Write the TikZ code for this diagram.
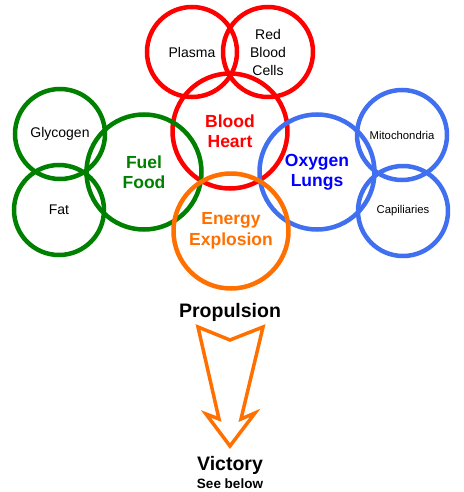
\documentclass[tikz,border=0pt]{standalone}
\usepackage{fontspec}
\setmainfont{Liberation Sans}
\definecolor{cred}{RGB}{255,0,0}
\definecolor{cgreen}{RGB}{0,128,0}
\definecolor{cblue}{RGB}{64,112,240}
\definecolor{tblue}{RGB}{0,0,255}
\definecolor{corange}{RGB}{255,112,0}
\begin{document}
\begin{tikzpicture}[x=1pt,y=-1pt,
  ring/.style={circle,draw,line width=4.5pt,minimum size=#1,inner sep=0pt},
  small/.style={font=\fontsize{14}{18}\selectfont,align=center,text=black},
  tiny/.style={font=\fontsize{11.3}{14}\selectfont,align=center,text=black},
  big/.style={font=\bfseries\fontsize{17.5}{20.5}\selectfont,align=center},
  title/.style={font=\bfseries\fontsize{19.5}{22}\selectfont,text=black}]
\useasboundingbox (0,0) rectangle (463,492);
% red
\node[ring=90pt,draw=cred] (plasma) at (192,52) {};
\node[ring=90pt,draw=cred] (rbc) at (268,52) {};
\node[ring=115pt,draw=cred] (heart) at (230,131) {};
% green
\node[ring=90pt,draw=cgreen] (glyc) at (60,134) {};
\node[ring=90pt,draw=cgreen] (fat) at (59,210) {};
\node[ring=115pt,draw=cgreen] (fuel) at (144,172) {};
% blue
\node[ring=90pt,draw=cblue] (mito) at (402,135) {};
\node[ring=90pt,draw=cblue] (capi) at (403,211) {};
\node[ring=115pt,draw=cblue] (oxy) at (317,172) {};
% orange
\node[ring=115pt,draw=corange] (energy) at (231,231) {};
% labels
\node[small] at (plasma) {Plasma};
\node[small] at (rbc) {Red\\Blood\\Cells};
\node[small] at (glyc) {Glycogen};
\node[small] at (fat) {Fat};
\node[tiny] at (mito) {Mitochondria};
\node[tiny] at (capi) {Capiliaries};
\node[big,text=cred] at (heart) {Blood\\Heart};
\node[big,text=cgreen] at (fuel) {Fuel\\Food};
\node[big,text=tblue] at (oxy) {Oxygen\\Lungs};
\node[big,text=corange] at (energy) {Energy\\Explosion};
\node[title] (prop) at (230,312) {Propulsion};
\node[title] (vic) at (230,465) {Victory};
\node[font=\bfseries\fontsize{13.5}{15}\selectfont] (see) at (230,484) {See below};
% arrow
\draw[corange,line width=3.5pt,line join=miter]
  (198,327) -- (219,419) -- (206,414) -- (230,446) -- (255,413) -- (241,419)
  -- (263,327) -- (230,340) -- cycle;
\end{tikzpicture}
\end{document}
